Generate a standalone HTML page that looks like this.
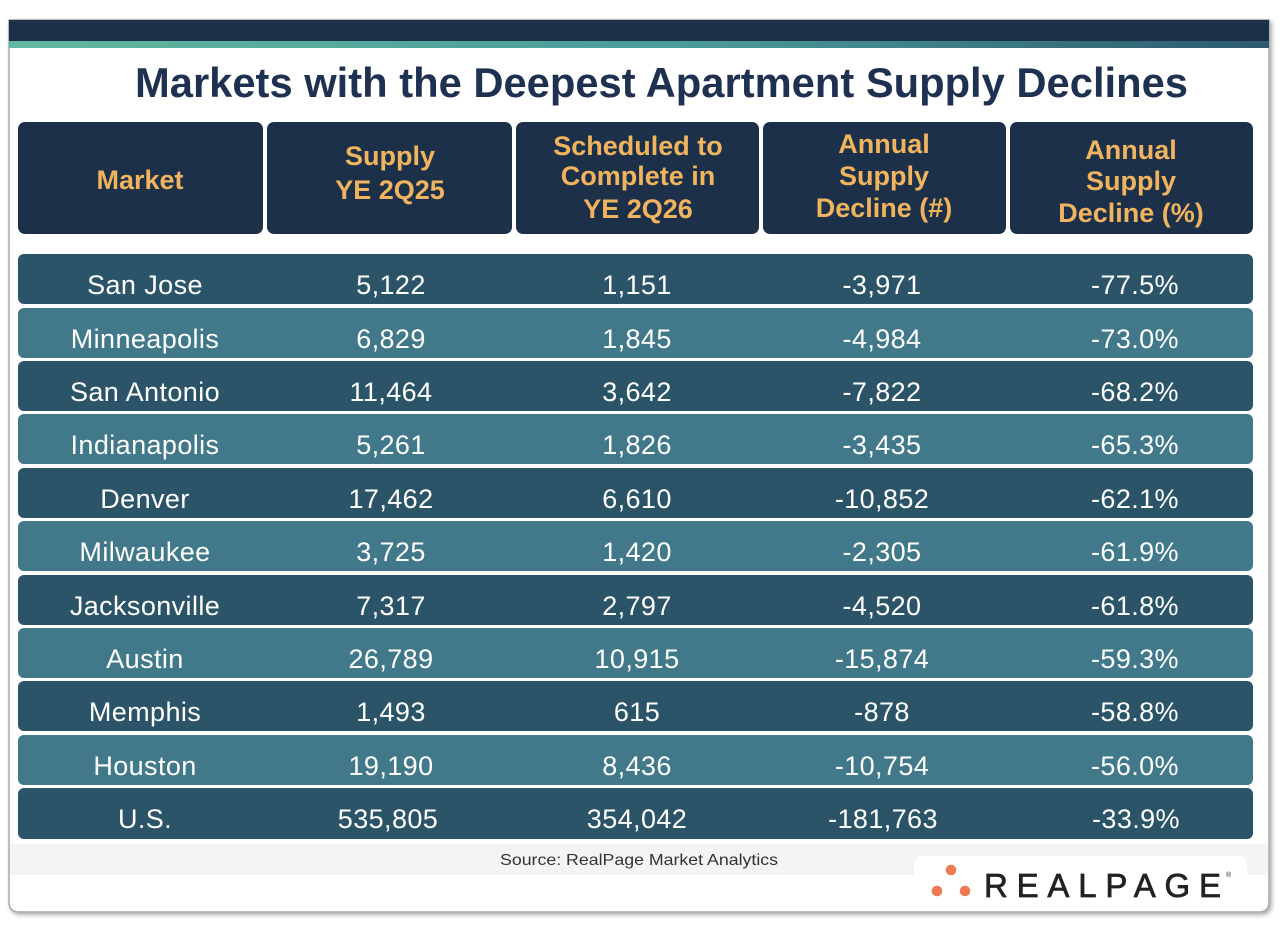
<!DOCTYPE html>
<html><head><meta charset="utf-8"><style>
html,body{margin:0;padding:0;background:#fff;}
svg{display:block;}
</style></head><body>
<svg width="1280" height="931" viewBox="0 0 1280 931" xmlns="http://www.w3.org/2000/svg" font-family="'Liberation Sans', sans-serif">
<defs>
<linearGradient id="stripe" x1="0" x2="1" y1="0" y2="0">
<stop offset="0" stop-color="#62b8a0"/>
<stop offset="0.55" stop-color="#4a9a98"/>
<stop offset="1" stop-color="#2c5a6e"/>
</linearGradient>
<filter id="sh" x="-5%" y="-5%" width="110%" height="110%">
<feDropShadow dx="2" dy="2" stdDeviation="2.5" flood-color="#000" flood-opacity="0.35"/>
</filter>
</defs>
<!-- card -->
<path d="M9,20 H1269 V902 Q1269,912 1259,912 H19 Q9,912 9,902 Z" fill="#fff" stroke="#a8a8a8" stroke-width="1.5" filter="url(#sh)"/>
<rect x="9" y="20" width="1260" height="21" fill="#1d3049"/>
<rect x="9" y="41" width="1260" height="7" fill="url(#stripe)"/>
<!-- title -->
<text x="135" y="97" font-size="42" font-weight="bold" fill="#1f3150" textLength="1053" lengthAdjust="spacingAndGlyphs">Markets with the Deepest Apartment Supply Declines</text>
<!-- header cells -->
<g fill="#1d3049">
<rect x="18" y="122" width="245" height="112" rx="7"/>
<rect x="267" y="122" width="245" height="112" rx="7"/>
<rect x="516" y="122" width="243" height="112" rx="7"/>
<rect x="763" y="122" width="243" height="112" rx="7"/>
<rect x="1010" y="122" width="243" height="112" rx="7"/>
</g>
<g fill="#f0b45e" font-size="27" font-weight="bold" text-anchor="middle">
<text x="140" y="189">Market</text>
<text x="390" y="165">Supply</text>
<text x="390" y="199">YE 2Q25</text>
<text x="638" y="155">Scheduled to</text>
<text x="638" y="185">Complete in</text>
<text x="638" y="218">YE 2Q26</text>
<text x="884" y="153">Annual</text>
<text x="884" y="185">Supply</text>
<text x="884" y="217">Decline (#)</text>
<text x="1131" y="159">Annual</text>
<text x="1131" y="190">Supply</text>
<text x="1131" y="222">Decline (%)</text>
</g>
<!-- rows -->
<g>
<rect x="18" y="254" width="1235" height="50" rx="6" fill="#2c5468"/>
<rect x="18" y="308" width="1235" height="50" rx="6" fill="#41798a"/>
<rect x="18" y="361" width="1235" height="50" rx="6" fill="#2c5468"/>
<rect x="18" y="414" width="1235" height="50" rx="6" fill="#41798a"/>
<rect x="18" y="468" width="1235" height="50" rx="6" fill="#2c5468"/>
<rect x="18" y="521" width="1235" height="50" rx="6" fill="#41798a"/>
<rect x="18" y="575" width="1235" height="50" rx="6" fill="#2c5468"/>
<rect x="18" y="628" width="1235" height="50" rx="6" fill="#41798a"/>
<rect x="18" y="681" width="1235" height="50" rx="6" fill="#2c5468"/>
<rect x="18" y="735" width="1235" height="50" rx="6" fill="#41798a"/>
<rect x="18" y="788" width="1235" height="51" rx="6" fill="#2c5468"/>
</g>
<g fill="#fff" font-size="27" text-anchor="middle" letter-spacing="0.4">
<text x="145" y="294">San Jose</text><text x="391" y="294">5,122</text><text x="637" y="294">1,151</text><text x="882" y="294">-3,971</text><text x="1135" y="294">-77.5%</text>
<text x="145" y="348">Minneapolis</text><text x="391" y="348">6,829</text><text x="637" y="348">1,845</text><text x="882" y="348">-4,984</text><text x="1135" y="348">-73.0%</text>
<text x="145" y="401">San Antonio</text><text x="391" y="401">11,464</text><text x="637" y="401">3,642</text><text x="882" y="401">-7,822</text><text x="1135" y="401">-68.2%</text>
<text x="145" y="454">Indianapolis</text><text x="391" y="454">5,261</text><text x="637" y="454">1,826</text><text x="882" y="454">-3,435</text><text x="1135" y="454">-65.3%</text>
<text x="145" y="508">Denver</text><text x="391" y="508">17,462</text><text x="637" y="508">6,610</text><text x="882" y="508">-10,852</text><text x="1135" y="508">-62.1%</text>
<text x="145" y="561">Milwaukee</text><text x="391" y="561">3,725</text><text x="637" y="561">1,420</text><text x="882" y="561">-2,305</text><text x="1135" y="561">-61.9%</text>
<text x="145" y="615">Jacksonville</text><text x="391" y="615">7,317</text><text x="637" y="615">2,797</text><text x="882" y="615">-4,520</text><text x="1135" y="615">-61.8%</text>
<text x="145" y="668">Austin</text><text x="391" y="668">26,789</text><text x="637" y="668">10,915</text><text x="882" y="668">-15,874</text><text x="1135" y="668">-59.3%</text>
<text x="145" y="721">Memphis</text><text x="391" y="721">1,493</text><text x="637" y="721">615</text><text x="882" y="721">-878</text><text x="1135" y="721">-58.8%</text>
<text x="145" y="775">Houston</text><text x="391" y="775">19,190</text><text x="637" y="775">8,436</text><text x="882" y="775">-10,754</text><text x="1135" y="775">-56.0%</text>
<text x="145" y="828">U.S.</text><text x="388" y="828">535,805</text><text x="637" y="828">354,042</text><text x="883" y="828">-181,763</text><text x="1136" y="828">-33.9%</text>
</g>
<!-- source band -->
<rect x="10" y="844" width="1258" height="31" fill="#f4f4f4"/>
<text x="639" y="865" font-size="16" fill="#333" text-anchor="middle" textLength="278" lengthAdjust="spacingAndGlyphs">Source: RealPage Market Analytics</text>
<!-- logo -->
<path d="M914,875 V866 Q914,856 924,856 H1237 Q1247,856 1247,866 V875 Z" fill="#fff"/>
<circle cx="951" cy="870" r="5.3" fill="#ee7a55"/>
<circle cx="937" cy="891" r="5.3" fill="#ee7a55"/>
<circle cx="965" cy="891" r="5.3" fill="#ee7a55"/>
<text x="984" y="897" font-size="33" fill="#222" stroke="#222" stroke-width="0.7" textLength="237" lengthAdjust="spacing">REALPAGE</text>
<text x="1226" y="877" font-size="7" fill="#222">®</text>
</svg>
</body></html>
